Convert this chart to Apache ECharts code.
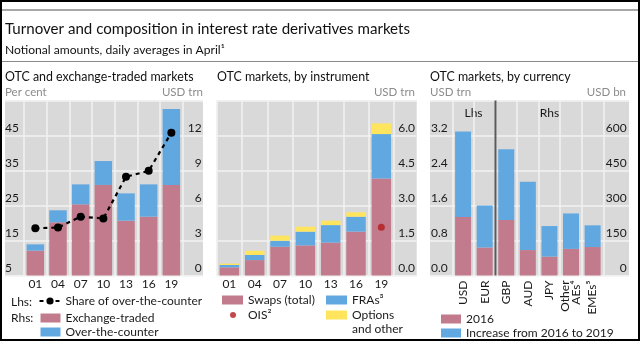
<!DOCTYPE html>
<html>
<head>
<meta charset="utf-8">
<script src="https://cdn.jsdelivr.net/npm/echarts/dist/echarts.min.js"></script>
<style>
  html, body { margin: 0; padding: 0; background: #fff; }
  #chart { width: 640px; height: 341px; }
</style>
</head>
<body>
<div id="chart"></div>
<script>
// Survey years shared by the two left-hand panels
const years = ['01', '04', '07', '10', '13', '16', '19'];

// Panel 1: OTC and exchange-traded markets (USD trn, share in per cent)
const exchangeTraded = [2.13, 4.56, 6.10, 7.76, 4.70, 5.04, 7.76];
const overTheCounter = [0.54, 1.03, 1.71, 2.05, 2.34, 2.77, 6.51];
const otcShare = [18.5, 18.7, 21.8, 21.3, 33.2, 34.9, 45.8];

// Panel 2: OTC markets by instrument (USD trn)
const swapsTotal = [0.35, 0.66, 1.23, 1.29, 1.41, 1.88, 4.16];
const fras = [0.10, 0.22, 0.26, 0.59, 0.75, 0.64, 1.90];
const optionsOther = [0.06, 0.18, 0.22, 0.21, 0.19, 0.19, 0.46];
const ois = ['-', '-', '-', '-', '-', '-', 2.07];

// Panel 3: OTC markets by currency
const currencies = ['USD', 'EUR', 'GBP', 'AUD', 'JPY', 'Other\nAEs⁴', 'EMEs⁵'];
// USD and EUR in USD trn (left scale)
const lhs2016 = [1.34, 0.64, '-', '-', '-', '-', '-'];
const lhsIncrease = [1.95, 0.96, '-', '-', '-', '-', '-'];
// Other currencies in USD bn (right scale)
const rhs2016 = ['-', '-', 238, 109, 81, 114, 122];
const rhsIncrease = ['-', '-', 303, 293, 131, 152, 93];

const FONT = 'Lato, "Open Sans", sans-serif';
const PINK = '#c27b8c';
const BLUE = '#62a8e0';
const YELLOW = '#ffe45e';
const RED = '#b31b1b';
const BG = '#d9d9d9';
const GRIDLINE = '#f2f2f2';
const TXT = '#1a1a1a';
const UNIT = '#8c8c8c';

const TOP = 100.5, H = 175;

const chart = echarts.init(document.getElementById('chart'), null, { renderer: 'canvas' });

function bgGrid(left, width) {
  return { left: left, top: TOP, width: width, height: H, show: true,
           backgroundColor: BG, borderWidth: 0, containLabel: false };
}
function dataGrid(left, width) {
  return { left: left, top: TOP, width: width, height: H, show: false, containLabel: false };
}
function bgX(gi) {
  return { type: 'value', gridIndex: gi, min: 0, max: 1, show: false };
}
function bgY(gi) {
  return { type: 'value', gridIndex: gi, min: 0, max: 5, interval: 1, z: 1,
           axisLine: { show: false }, axisTick: { show: false }, axisLabel: { show: false },
           splitLine: { show: true, lineStyle: { color: GRIDLINE, width: 1.5 } } };
}
function catX(gi, data, extra) {
  return Object.assign({
    type: 'category', gridIndex: gi, data: data, boundaryGap: true, z: 1,
    axisLine: { show: false }, axisTick: { show: false },
    axisLabel: { color: TXT, fontSize: 12, fontFamily: FONT, margin: 3, interval: 0 },
    splitLine: { show: true, interval: 0, lineStyle: { color: GRIDLINE, width: 1.5 } }
  }, extra || {});
}
function valY(gi, pos, min, max, interval, align, margin, fmt) {
  return {
    type: 'value', gridIndex: gi, position: pos, min: min, max: max, interval: interval,
    axisLine: { show: false }, axisTick: { show: false }, splitLine: { show: false },
    axisLabel: {
      show: true, color: TXT, fontSize: 12, fontFamily: FONT, align: align, margin: margin,
      verticalAlign: 'bottom', lineHeight: 14, showMaxLabel: false, showMinLabel: true,
      formatter: function (v) { return v >= max - 1e-9 ? '' : fmt(v); }
    }
  };
}
// one legend entry placed at its own spot
function leg(name, left, top, opts) {
  return Object.assign({
    data: [name], left: left, top: top, itemWidth: 20, itemHeight: 9, icon: 'rect',
    selectedMode: false, padding: 0,
    textStyle: { color: TXT, fontSize: 12, fontFamily: FONT }
  }, opts || {});
}

function txt(x, y, s, size, color, align) {
  return { type: 'text', x: x, y: y, silent: true,
           style: { text: s, fontSize: size, fontFamily: FONT, fill: color || TXT,
                    align: align || 'left', verticalAlign: 'middle' } };
}

const option = {
  animation: false,
  grid: [
    bgGrid(5, 198), dataGrid(24, 158.7),
    bgGrid(216.7, 200), dataGrid(216.7, 177.3),
    bgGrid(430, 199), dataGrid(452.3, 151.1)
  ],
  xAxis: [
    bgX(0), catX(1, years),
    bgX(2), catX(3, years),
    bgX(4), catX(5, currencies, {
      axisLabel: { color: TXT, fontSize: 12, fontFamily: FONT, margin: 5, interval: 0,
                   rotate: 90, lineHeight: 11 }
    })
  ],
  yAxis: [
    bgY(0),
    valY(1, 'left', 5, 55, 10, 'left', 19, v => String(v)),
    valY(1, 'right', 0, 15, 3, 'right', 19, v => String(v)),
    bgY(2),
    valY(3, 'right', 0, 7.5, 1.5, 'right', 21, v => v.toFixed(1)),
    bgY(4),
    valY(5, 'left', 0, 4, 0.8, 'left', 21.3, v => v.toFixed(1)),
    valY(5, 'right', 0, 750, 150, 'right', 23.3, v => String(v))
  ],
  legend: [
    leg('Share of over-the-counter', 38.5, 295, { icon: undefined, itemWidth: 21 }),
    leg('Exchange-traded', 40.5, 312),
    leg('Over-the-counter', 40.5, 326),
    leg('Swaps (total)', 222, 294, { itemWidth: 21 }),
    leg('OIS²', 230, 309, { itemWidth: 6, itemHeight: 6, icon: 'circle',
      textStyle: { color: TXT, fontSize: 12, fontFamily: FONT, padding: [0, 0, 0, 7] } }),
    leg('FRAs³', 326, 294, { itemWidth: 21 }),
    leg('Options and other', 326, 309, { itemWidth: 21, formatter: () => 'Options' }),
    leg('2016', 441, 313),
    leg('Increase from 2016 to 2019', 441, 327)
  ],
  series: [
    // Panel 1
    { name: 'Exchange-traded', type: 'bar', xAxisIndex: 1, yAxisIndex: 2, stack: 'p1',
      barWidth: 17.5, itemStyle: { color: PINK }, data: exchangeTraded, z: 2 },
    { name: 'Over-the-counter', type: 'bar', xAxisIndex: 1, yAxisIndex: 2, stack: 'p1',
      barWidth: 17.5, itemStyle: { color: BLUE }, data: overTheCounter, z: 2 },
    { name: 'Share of over-the-counter', type: 'line', xAxisIndex: 1, yAxisIndex: 1,
      data: otcShare, symbol: 'circle', symbolSize: 8, z: 5,
      lineStyle: { color: '#000', width: 2.2, type: [4, 4] }, itemStyle: { color: '#000' } },
    // Panel 2
    { name: 'Swaps (total)', type: 'bar', xAxisIndex: 3, yAxisIndex: 4, stack: 'p2',
      barWidth: 19.5, itemStyle: { color: PINK }, data: swapsTotal, z: 2 },
    { name: 'FRAs³', type: 'bar', xAxisIndex: 3, yAxisIndex: 4, stack: 'p2',
      barWidth: 19.5, itemStyle: { color: BLUE }, data: fras, z: 2 },
    { name: 'Options and other', type: 'bar', xAxisIndex: 3, yAxisIndex: 4, stack: 'p2',
      barWidth: 19.5, itemStyle: { color: YELLOW }, data: optionsOther, z: 2 },
    { name: 'OIS²', type: 'scatter', xAxisIndex: 3, yAxisIndex: 4, data: ois,
      symbol: 'circle', symbolSize: 7, itemStyle: { color: RED }, z: 5 },
    // Panel 3
    { name: '2016', type: 'bar', xAxisIndex: 5, yAxisIndex: 6, stack: 'lhs', barGap: '-100%',
      barWidth: 16, itemStyle: { color: PINK }, data: lhs2016, z: 2 },
    { name: 'Increase from 2016 to 2019', type: 'bar', xAxisIndex: 5, yAxisIndex: 6, stack: 'lhs',
      barGap: '-100%', barWidth: 16, itemStyle: { color: BLUE }, data: lhsIncrease, z: 2 },
    { name: '2016', type: 'bar', xAxisIndex: 5, yAxisIndex: 7, stack: 'rhs', barGap: '-100%',
      barWidth: 16, itemStyle: { color: PINK }, data: rhs2016, z: 2 },
    { name: 'Increase from 2016 to 2019', type: 'bar', xAxisIndex: 5, yAxisIndex: 7, stack: 'rhs',
      barGap: '-100%', barWidth: 16, itemStyle: { color: BLUE }, data: rhsIncrease, z: 2 }
  ],
  graphic: [
    // outer frame and header rules
    { type: 'rect', silent: true, z: 100, shape: { x: 1, y: 1, width: 638, height: 339 },
      style: { fill: 'none', stroke: '#000', lineWidth: 2 } },
    { type: 'line', silent: true, shape: { x1: 2, y1: 10, x2: 638, y2: 10 },
      style: { stroke: '#8a8a8a', lineWidth: 1.5 } },
    { type: 'line', silent: true, shape: { x1: 2, y1: 61.5, x2: 638, y2: 61.5 },
      style: { stroke: '#8a8a8a', lineWidth: 1.2 } },
    txt(5, 29, 'Turnover and composition in interest rate derivatives markets', 15.1, '#111'),
    txt(5, 50, 'Notional amounts, daily averages in April¹', 12.1, '#111'),
    // panel titles
    txt(5, 77, 'OTC and exchange-traded markets', 12.4, '#111'),
    txt(217, 77, 'OTC markets, by instrument', 12.4, '#111'),
    txt(430, 77, 'OTC markets, by currency', 12.4, '#111'),
    // units
    txt(5, 92.5, 'Per cent', 11.5, UNIT),
    txt(203, 92.5, 'USD trn', 11.5, UNIT, 'right'),
    txt(415, 92.5, 'USD trn', 11.5, UNIT, 'right'),
    txt(430, 92.5, 'USD trn', 11.5, UNIT),
    txt(626, 92.5, 'USD bn', 11.5, UNIT, 'right'),
    // scale separator in the currency panel
    { type: 'line', silent: true, z: 10, shape: { x1: 495.5, y1: TOP, x2: 495.5, y2: TOP + H },
      style: { stroke: '#5a5a5a', lineWidth: 2 } },
    txt(473.5, 113, 'Lhs', 12, TXT, 'center'),
    txt(549.5, 113, 'Rhs', 12, TXT, 'center'),
    // legend prefixes and continuation line
    txt(11, 302, 'Lhs:', 12, TXT),
    txt(11, 318, 'Rhs:', 12, TXT),
    txt(352, 329.5, 'and other', 12, TXT)
  ]
};

chart.setOption(option);
</script>
</body>
</html>
